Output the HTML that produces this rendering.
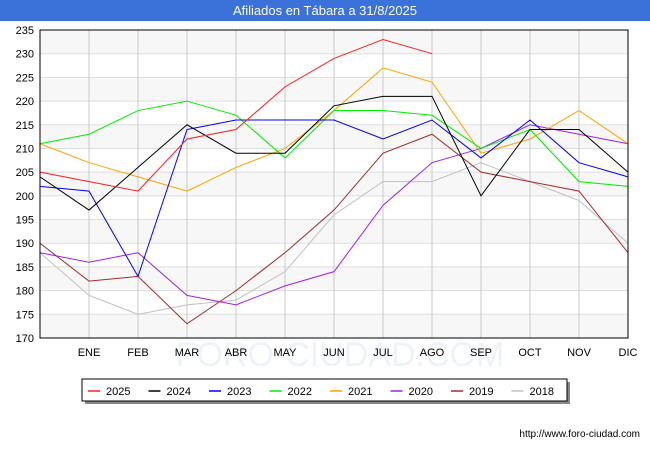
<!DOCTYPE html>
<html><head><meta charset="utf-8"><style>
body{margin:0;background:#fff;font-family:"Liberation Sans",sans-serif;}
#wrap{position:relative;width:650px;height:450px;}
</style></head><body><div id="wrap">
<svg id="chart" width="650" height="450"></svg>
</div>
<script>
const months=["","ENE","FEB","MAR","ABR","MAY","JUN","JUL","AGO","SEP","OCT","NOV","DIC"];
const yTicks=[170,175,180,185,190,195,200,205,210,215,220,225,230,235];
const seriesNames=["2025","2024","2023","2022","2021","2020","2019","2018"];
const seriesColors=["#ff2020","#000000","#0000ff","#00ee00","#ffa500","#a020f0","#a52a2a","#c0c0c0"];
const s2025=[205,203,201,212,214,223,229,233,230];
const s2024=[204,197,206,215,209,209,219,221,221,200,214,214,205];
const s2023=[202,201,183,214,216,216,216,212,216,208,216,207,204];
const s2022=[211,213,218,220,217,208,218,218,217,210,214,203,202];
const s2021=[211,207,204,201,206,210,218,227,224,209,212,218,211];
const s2020=[188,186,188,179,177,181,184,198,207,210,215,213,211];
const s2019=[190,182,183,173,180,188,197,209,213,205,203,201,188];
const s2018=[188,179,175,177,178,184,196,203,203,207,203,199,190];
const allSeries=[s2025,s2024,s2023,s2022,s2021,s2020,s2019,s2018];
const NS="http://www.w3.org/2000/svg";
const svg=document.getElementById('chart');
const L=40,R=628,T=30,B=338,ymin=170,ymax=235;
const x=i=>L+i*(R-L)/12;
const y=v=>B-(v-ymin)*(B-T)/(ymax-ymin);
function mk(tag,attrs,parent){const e=document.createElementNS(NS,tag);for(const k in attrs)e.setAttribute(k,attrs[k]);(parent||svg).appendChild(e);return e;}
let tb=mk('rect',{x:0,y:0,width:650,height:21,fill:'#3b72d9'});


let tt=mk('text',{x:325,y:15,'text-anchor':'middle','font-size':13,fill:'#fff'});tt.textContent='Afiliados en Tábara a 31/8/2025';


for(let k=0;k<yTicks.length-1;k++){
 const v=yTicks[k];
 if(k%2===0){let r=mk('rect',{x:L,y:y(v+5),width:R-L,height:y(v)-y(v+5),fill:'#f7f7f7'});
 
 }
}
let wm=mk('text',{x:340,y:366,'text-anchor':'middle','font-size':34,fill:'#eef2f9'});wm.textContent='FORO-CIUDAD.COM';


yTicks.forEach(v=>{
 let g=mk('line',{x1:L,x2:R,y1:y(v),y2:y(v),stroke:'#dddddd','stroke-width':1});
 
 
 let t=mk('text',{x:L-6,y:y(v)+4,'text-anchor':'end','font-size':11,fill:'#000'});t.textContent=v;
 
 
});
months.forEach((m,i)=>{
 if(i>0){let g=mk('line',{x1:x(i),x2:x(i),y1:T,y2:B,stroke:'#c8c8c8','stroke-width':1});
 
 
 let t=mk('text',{x:x(i),y:B+18,'text-anchor':'middle','font-size':11,fill:'#000'});t.textContent=m;
 
 }
});
for(let s=allSeries.length-1;s>=0;s--){
 const pts=allSeries[s].map((v,i)=>x(i)+','+y(v)).join(' ');
 let p=mk('polyline',{points:pts,fill:'none',stroke:seriesColors[s],'stroke-width':1});
 
 
}
let fr=mk('rect',{x:L,y:T,width:R-L,height:B-T,fill:'none',stroke:'#000','stroke-width':1});


let ls=mk('rect',{x:85,y:382,width:485,height:22,fill:'#888'});


let lb=mk('rect',{x:82,y:379,width:485,height:22,fill:'#fff',stroke:'#000','stroke-width':1});


seriesNames.forEach((n,i)=>{
 const lx=88+i*60.5;
 let ln=mk('line',{x1:lx,x2:lx+12,y1:391,y2:391,stroke:seriesColors[i],'stroke-width':1.5});
 
 
 let t=mk('text',{x:lx+18,y:395,'font-size':11,fill:'#000'});t.textContent=n;
 
 
});
let ft=mk('text',{x:640,y:437,'text-anchor':'end','font-size':10,fill:'#000'});ft.textContent='http://www.foro-ciudad.com';


</script></body></html>
